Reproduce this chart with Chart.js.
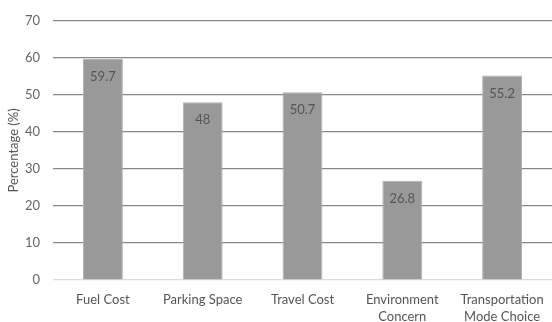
<!DOCTYPE html>
<html>
<head>
<meta charset="utf-8">
<script src="https://cdn.jsdelivr.net/npm/chart.js@4"></script>
<style>
  html, body { margin: 0; padding: 0; background: #fff; }
  #wrap { width: 552px; height: 322px; }
</style>
</head>
<body>
<div id="wrap"><canvas id="myChart" width="552" height="322"></canvas></div>
<script>
const categories = ['Fuel Cost', 'Parking Space', 'Travel Cost', ['Environment', 'Concern'], ['Transportation', 'Mode Choice']]
const percentages = [59.7, 48, 50.7, 26.8, 55.2]
const yTicks = [0, 10, 20, 30, 40, 50, 60, 70]

// value written just inside the top of each bar
const barValues = {
  id: 'barValues',
  afterDatasetsDraw(chart) {
    const ctx = chart.ctx
    const meta = chart.getDatasetMeta(0)
    ctx.save()
    ctx.font = '13px Lato'
    ctx.fillStyle = '#555'
    ctx.textAlign = 'center'
    ctx.textBaseline = 'middle'
    meta.data.forEach(function(bar, i) {
      ctx.fillText(String(percentages[i]), bar.x, bar.y + 18)
    })
    ctx.restore()
  }
}

const ctx = document.getElementById('myChart')
const myChart = new Chart(ctx, {
  type: 'bar',
  data: {
    labels: categories,
    datasets: [{
      data: percentages,
      backgroundColor: '#999999',
      borderColor: '#b0b0b0',
      borderWidth: 1,
      barPercentage: 0.4,
      categoryPercentage: 1
    }]
  },
  options: {
    responsive: false,
    animation: false,
    layout: { padding: { top: 15, right: 0 } },
    plugins: {
      legend: { display: false },
      tooltip: { enabled: false }
    },
    scales: {
      x: {
        grid: { display: false },
        border: { display: false },
        ticks: { color: '#555', font: { family: 'Lato', size: 13, lineHeight: 1.3 }, padding: 3, maxRotation: 0 },
        afterFit(scale) { scale.height = 42 }
      },
      y: {
        min: 0,
        max: 70,
        afterBuildTicks(scale) { scale.ticks = yTicks.map(v => ({ value: v })) },
        grid: {
          drawTicks: false,
          lineWidth: 1.2,
          color: c => c.tick && c.tick.value === 0 ? '#dcdcdc' : '#888888'
        },
        border: { display: false },
        ticks: { color: '#666', font: { family: 'Lato', size: 13 }, padding: 13 },
        title: { display: true, text: 'Percentage (%)', color: '#555', font: { family: 'Lato', size: 13 }, padding: { top: 6, bottom: 0 } },
        afterFit(scale) { scale.width = 53 }
      }
    }
  },
  plugins: [barValues]
})
</script>
</body>
</html>
